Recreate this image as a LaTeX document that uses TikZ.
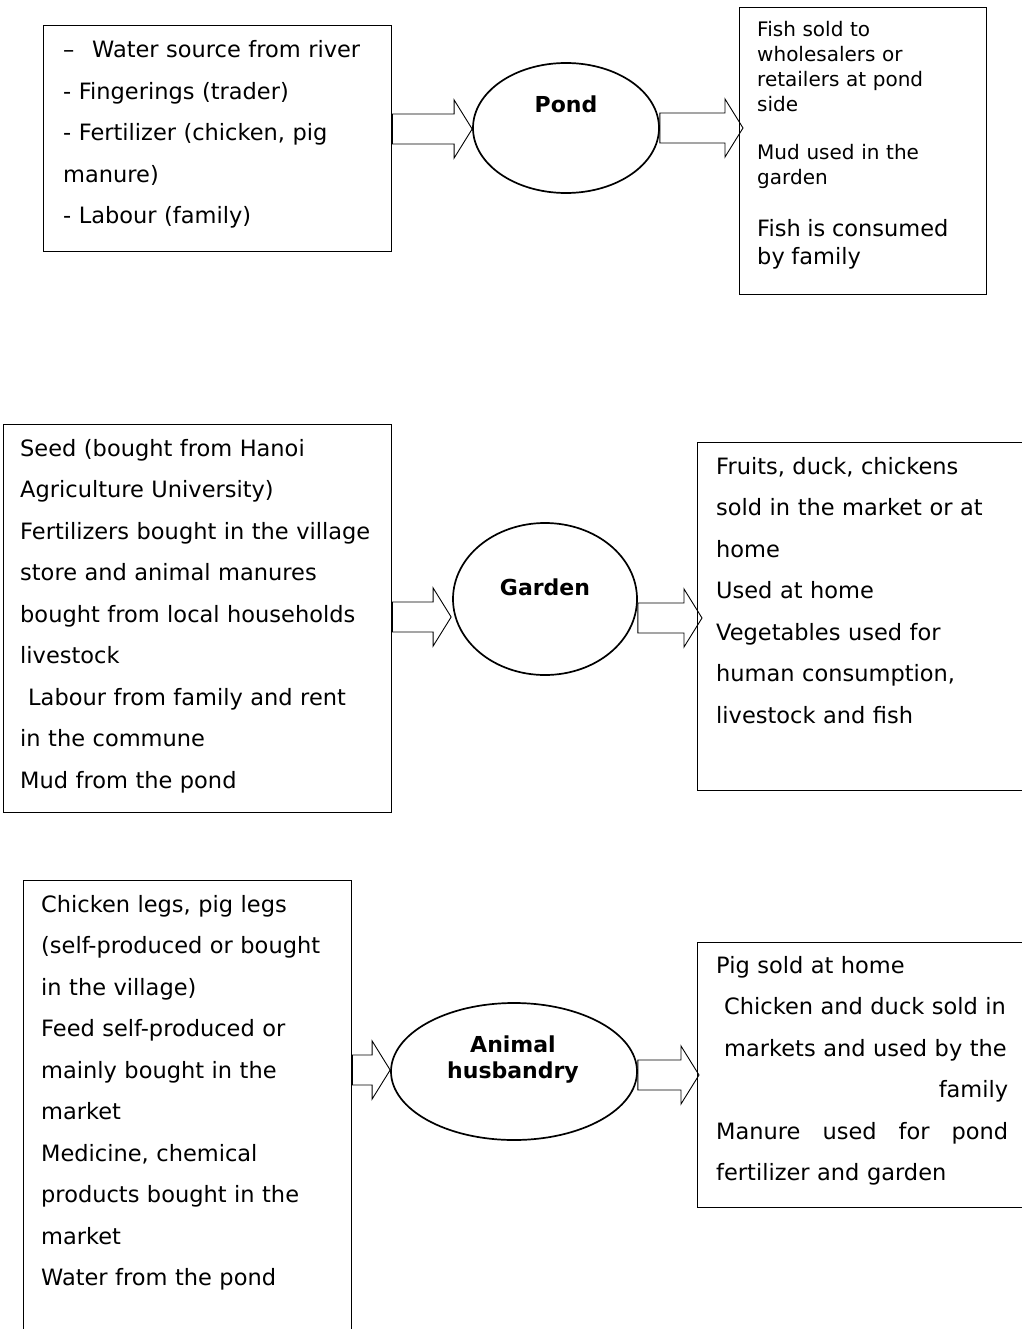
\documentclass[tikz,border=0pt]{standalone}
\usepackage{fontspec}
\setmainfont{DejaVu Sans}
\usetikzlibrary{shapes.geometric,calc,backgrounds}

% hollow block arrow: body start, tip, tip offset
\def\flow#1#2#3{
	\draw[flowline] let \p1=(#1), \p2=(#2) in
		(\x1,\y2+15) -- (\x2+#3-18,\y2+15) -- (\x2+#3-18,\y2+29)
		-- (\x2+#3,\y2) -- (\x2+#3-18,\y2-29) -- (\x2+#3-18,\y2-15)
		-- (\x1,\y2-15) -- cycle;
}

\begin{document}
\begin{tikzpicture}[x=1pt,y=-1pt,
	box/.style={draw, line width=1.3pt, anchor=north west, inner sep=0pt},
	entry/.style={anchor=base west, inner sep=0pt, align=left,
		font=\fontsize{22.5}{41.5}\selectfont},
	process/.style={ellipse, draw, fill=white, line width=1.7pt, inner sep=0pt},
	proctext/.style={font=\fontsize{22}{26}\selectfont\bfseries,
		align=center, inner sep=0pt},
	flowline/.style={line width=0.9pt, line join=miter},
	]
	\useasboundingbox (0,0) rectangle (1021,1329);

	% --- pond
	\node[box, minimum width=348, minimum height=226] (PondIn) at (43,25) {};
	\node[entry, text width=320] (PondInText) at (63,58) {
		\makebox[29pt][l]{–}Water source from river\\
		- Fingerings (trader)\\
		- Fertilizer (chicken, pig\\
		manure)\\
		- Labour (family)};
	\node[box, minimum width=247, minimum height=287] (PondOut) at (739,7) {};
	\node[entry, text width=225, font=\fontsize{20}{25}\selectfont]
		(PondOutText) at (757,37) {
		Fish sold to\\
		wholesalers or\\
		retailers at pond\\
		side\par\vspace{23pt}
		Mud used in the\\
		garden\par\vspace{24pt}
		{\fontsize{22.5}{28}\selectfont Fish is consumed\\
		by family\par}};

	% --- garden
	\node[box, minimum width=388, minimum height=388] (GardenIn) at (3,424) {};
	\node[entry, text width=365] (GardenInText) at (20,456) {
		Seed (bought from Hanoi\\
		Agriculture University)\\
		Fertilizers bought in the village\\
		store and animal manures\\
		bought from local households\\
		livestock\\
		\hspace*{8pt}Labour from family and rent\\
		in the commune\\
		Mud from the pond};
	\node[box, minimum width=340, minimum height=348] (GardenOut) at (697,442) {};
	\node[entry, text width=300] (GardenOutText) at (716,474) {
		Fruits, duck, chickens\\
		sold in the market or at\\
		home\\
		Used at home\\
		Vegetables used for\\
		human consumption,\\
		livestock and fish};

	% --- animal husbandry
	\node[box, minimum width=328, minimum height=470] (AnimalIn) at (23,880) {};
	\node[entry, text width=300] (AnimalInText) at (41,912) {
		Chicken legs, pig legs\\
		(self-produced or bought\\
		in the village)\\
		Feed self-produced or\\
		mainly bought in the\\
		market\\
		Medicine, chemical\\
		products bought in the\\
		market\\
		Water from the pond};
	\node[box, minimum width=340, minimum height=265] (AnimalOut) at (697,942) {};
	\node[entry, text width=292] (AnimalOutText) at (716,973) {
		Pig sold at home\\
		\hspace*{8pt}Chicken and duck sold in\\
		\hspace*{8pt}markets and used by the\\
		\hspace*{\fill}family\\
		Manure\hfill used\hfill for\hfill pond\\
		fertilizer and garden};

	% processes
	\node[process, minimum width=186, minimum height=130] (Pond) at (566,128) {};
	\node[process, minimum width=184, minimum height=152] (Garden) at (545,599) {};
	\node[process, minimum width=246, minimum height=137] (Animal) at (514,1071.5) {};

	\node[proctext] (PondLabel) at (566,104) {Pond};
	\node[proctext] (GardenLabel) at (545,587) {Garden};
	\node[proctext, anchor=north] (AnimalLabel) at (513,1036) {Animal\\husbandry};

	% arrows go under the ellipses
	\begin{pgfonlayer}{background}
	\flow{PondIn.east |- 0,129}{Pond.west |- 0,129}{0}
	\flow{Pond.east |- 0,128}{PondOut.west |- 0,128}{4}
	\flow{GardenIn.east |- 0,617}{Garden.west |- 0,617}{-1}
	\flow{Garden.east |- 0,618}{GardenOut.west |- 0,618}{5}
	\flow{AnimalIn.east |- 0,1070}{Animal.west |- 0,1070}{0}
	\flow{Animal.east |- 0,1075}{AnimalOut.west |- 0,1075}{2}
	\end{pgfonlayer}
\end{tikzpicture}
\end{document}
